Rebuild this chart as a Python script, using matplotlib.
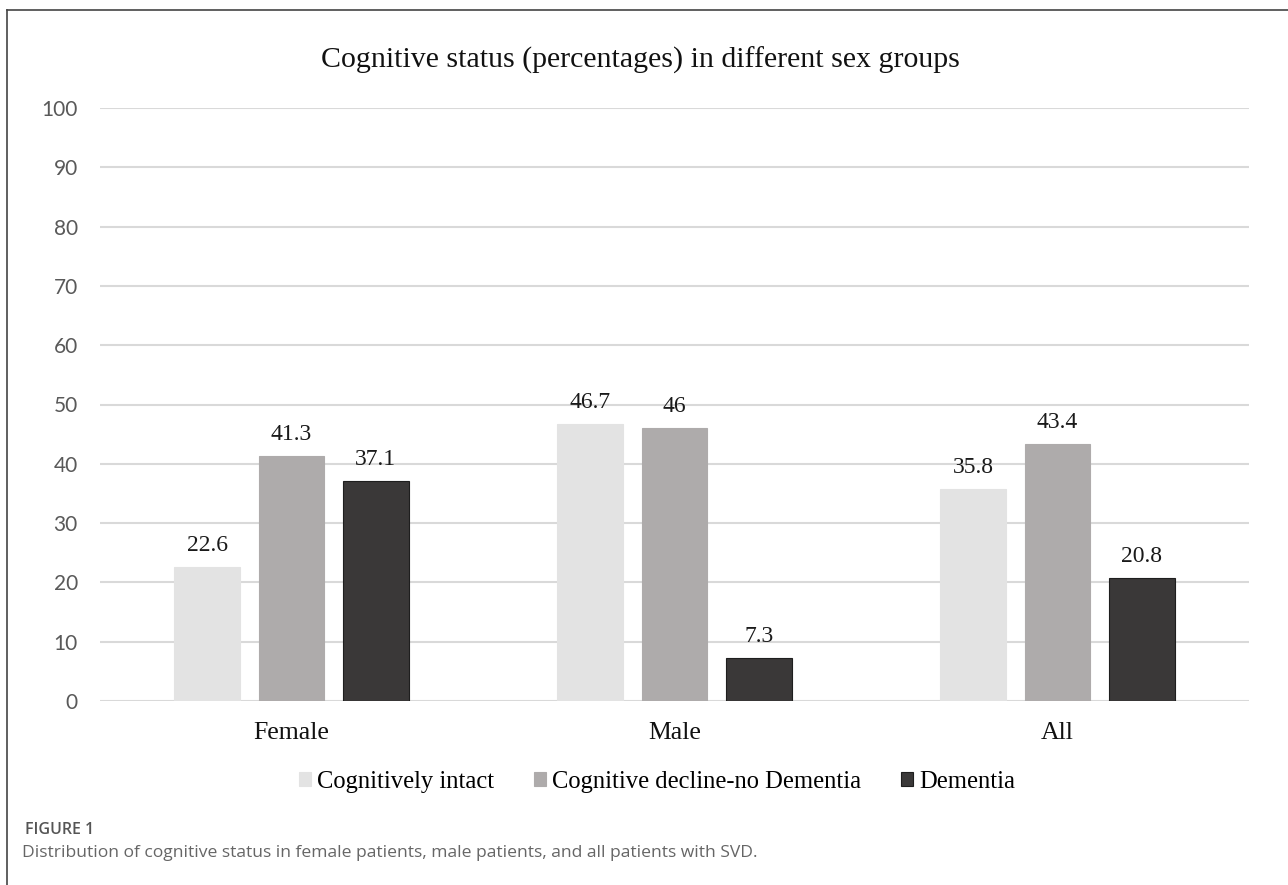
import numpy as np
import matplotlib
matplotlib.use("Agg")
import matplotlib.pyplot as plt
from matplotlib.lines import Line2D

# --- data ---
groups = ["Female", "Male", "All"]
series = ["Cognitively intact", "Cognitive decline-no Dementia", "Dementia"]
intact = [22.6, 46.7, 35.8]
decline = [41.3, 46.0, 43.4]
dementia = [37.1, 7.3, 20.8]
yticks = list(range(0, 101, 10))

colors = ["#e3e3e3", "#aeabab", "#3a3838"]
edges = ["#e3e3e3", "#aeabab", "#1e1e1e"]

serif = "Liberation Serif"
sans = "Lato"

fig = plt.figure(figsize=(12.88, 8.85), dpi=100)
ax = fig.add_axes([100 / 1288, 1 - 701 / 885, 1149 / 1288, 593 / 885])

x = np.arange(len(groups))
w = 0.172
step = 0.22
for i, (vals, name) in enumerate(zip([intact, decline, dementia], series)):
    bars = ax.bar(x + (i - 1) * step, vals, w, color=colors[i],
                  edgecolor=edges[i], linewidth=0.8, label=name, zorder=3)
    ax.bar_label(bars, labels=[f"{v:g}" for v in vals], padding=8,
                 fontsize=17, family=serif, color="#1a1a1a")

ax.set_xlim(-0.5, 2.5)
ax.set_ylim(0, 100)
ax.set_yticks(yticks)
ax.set_xticks(x)
ax.set_xticklabels(groups, family=serif, fontsize=18.5, color="#111111")
for lab in ax.get_yticklabels():
    lab.set_family(sans)
    lab.set_fontsize(15)
    lab.set_color("#595959")
ax.tick_params(axis="y", length=0, pad=16)
ax.tick_params(axis="x", length=0, pad=15)
ax.yaxis.grid(True, color="#d9d9d9", linewidth=1.5, zorder=0)
ax.set_axisbelow(True)
for s in ax.spines.values():
    s.set_visible(False)

fig.text(640 / 1288, 1 - 60 / 885, "Cognitive status (percentages) in different sex groups",
         ha="center", va="center", family=serif, fontsize=21.5, color="#111111")

fig.legend(loc="center", bbox_to_anchor=(657 / 1288, 1 - 782 / 885), ncol=3,
           frameon=False, prop={"family": serif, "size": 17.7},
           handlelength=0.5, handleheight=0.5, handletextpad=0.25,
           columnspacing=1.6)

# frame lines of the figure panel
fig.add_artist(Line2D([7 / 1288, 1], [1 - 10 / 885, 1 - 10 / 885],
                      transform=fig.transFigure, color="#444444", linewidth=1.2))
fig.add_artist(Line2D([7 / 1288, 7 / 1288], [0, 1 - 10 / 885],
                      transform=fig.transFigure, color="#444444", linewidth=1.2))

fig.text(25 / 1288, 1 - 830 / 885, "FIGURE 1", ha="left", va="center",
         family="Open Sans", fontsize=11.5, fontweight="semibold", color="#555555")
fig.text(22 / 1288, 1 - 853 / 885,
         "Distribution of cognitive status in female patients, male patients, and all patients with SVD.",
         ha="left", va="center", family="Open Sans", fontsize=12.6, color="#666666")

fig.savefig("out.png", dpi=100)
